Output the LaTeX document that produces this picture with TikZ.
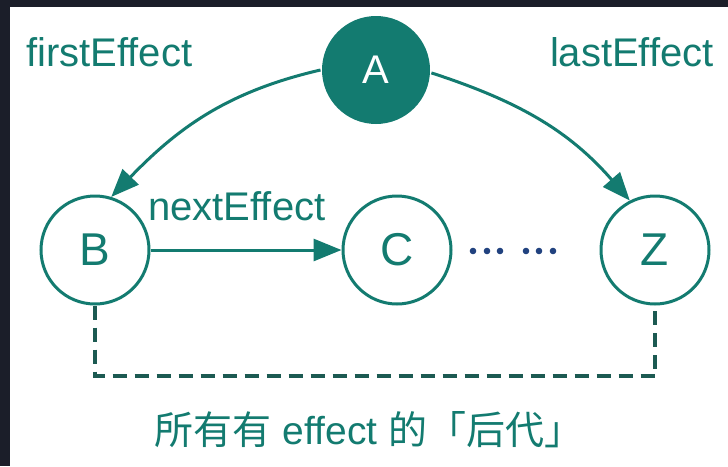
\documentclass[tikz,border=0pt]{standalone}
\usepackage{fontspec}
\setmainfont{Liberation Sans}
\newfontfamily\cjk{Noto Sans CJK SC}
\usetikzlibrary{arrows.meta}
\definecolor{efteal}{RGB}{19,123,112}
\definecolor{efdark}{RGB}{28,90,82}
\definecolor{efnavy}{RGB}{33,66,127}
\definecolor{efframe}{RGB}{27,30,41}
\begin{document}
\begin{tikzpicture}[x=1pt,y=1pt,
  every node/.style={inner sep=0pt},
  fibre/.style={circle, minimum size=108pt, line width=3pt},
  hollow/.style={fibre, draw=efteal, fill=white, text=efteal,
    font=\fontsize{46}{50}\selectfont},
  root/.style={fibre, fill=efteal, text=white,
    font=\fontsize{40}{46}\selectfont},
  tag/.style={text=efteal, font=\fontsize{40}{48}\selectfont},
  link/.style={draw=efteal, line width=3pt,
    -{Triangle[length=28pt,width=22pt]}},
  family/.style={draw=efdark, line width=3.4pt, dash pattern=on 14pt off 8pt},
]
% frame and canvas
\fill[efframe] (0,0) rectangle (728,-466);
\fill[white] (10,-7) rectangle (728,-466);
\useasboundingbox (0,0) rectangle (728,-466);

% fibres
\node[root]   (A) at (376,-70)  {A};
\node[hollow] (B) at (95,-250)  {B};
\node[hollow] (C) at (397,-250) {C};
\node[hollow] (Z) at (655,-250) {Z};

% effect list pointers
\draw[link] (A.180) to[out=193,in=46] (B.73);
\draw[link] (A.-3) to[out=-18,in=131] (Z.117);
\draw[link] (B) -- (C);

% ellipsis between C and Z
\foreach \x in {473,487,500,526,539,553}
  \fill[efnavy] (\x,-251) circle (3.3);

% descendants bracket
\coordinate (corner) at (655,-376);
\draw[family] (B.south) |- (corner) -- (Z.south);

% labels
\node[tag, anchor=base west] (first) at (26,-66)  {firstEffect};
\node[tag, anchor=base east] (last)  at (714,-66) {lastEffect};
\node[tag, anchor=base west] (next)  at (148,-220) {nextEffect};
\node[text=efteal, font=\fontsize{39}{44}\selectfont] (desc) at (369,-430)
  {{\cjk 所有有} effect {\cjk 的「后代」}};
\end{tikzpicture}
\end{document}
